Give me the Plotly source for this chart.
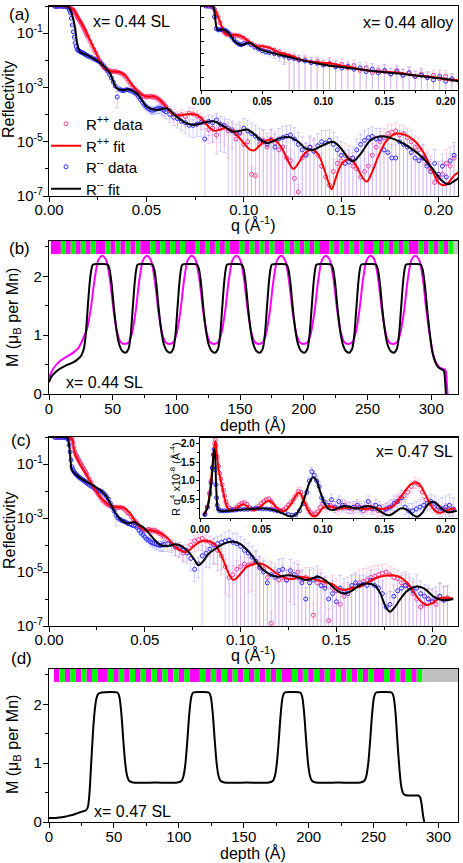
import plotly.graph_objects as go

FONT = "Liberation Sans, Arial, sans-serif"
W, H = 463, 863

# ====================== DATA ======================
# ---- panel (a): x = 0.44 SL, reflectivity (log10 R) ----
refl_q = [0.003,0.004,0.005,0.006,0.007,0.008,0.009,0.0095,0.010,0.0105,
          0.011,0.0115,0.012,0.0125,0.013,0.0135,0.014,0.0145,0.015,0.0155,
          0.016,0.0165,0.017,0.0175,0.018,0.0185,0.019,0.0195,0.020,0.021,
          0.022,0.023,0.024,0.025,0.026,0.027,0.028,0.029,0.030,0.031,
          0.032,0.033,0.034,0.035,0.036,0.037,0.038,0.039,0.040,0.041,
          0.042,0.043,0.044,0.045,0.046,0.047,0.048,0.049,0.050,0.051,
          0.052,0.053,0.054,0.055,0.056,0.057,0.058,0.059,0.060,0.062,
          0.064,0.066,0.068,0.070,0.072,0.074,0.076,0.078,0.080,0.082,
          0.084,0.086,0.088,0.090,0.092,0.094,0.096,0.098,0.100,0.102,
          0.104,0.106,0.108,0.110,0.112,0.114,0.116,0.118,0.120,0.122,
          0.124,0.126,0.128,0.130,0.132,0.134,0.136,0.138,0.140,0.142,
          0.144,0.146,0.148,0.150,0.152,0.154,0.156,0.158,0.160,0.162,
          0.164,0.166,0.168,0.170,0.172,0.174,0.176,0.178,0.180,0.182,
          0.184,0.186,0.188,0.190,0.192,0.194,0.196,0.198,0.200,0.202,
          0.204,0.206,0.208]

a_pp_logR = [-0.01,-0.01,0.0,-0.01,-0.02,-0.01,-0.03,-0.04,-0.05,-0.07,
             -0.09,-0.1,-0.12,-0.15,-0.2,-0.26,-0.32,-0.4,-0.46,-0.52,
             -0.58,-0.63,-0.7,-0.77,-0.85,-0.92,-1.0,-1.08,-1.15,-1.3,
             -1.45,-1.6,-1.72,-1.88,-2.02,-2.15,-2.25,-2.3,-2.35,-2.38,
             -2.4,-2.42,-2.4,-2.43,-2.45,-2.48,-2.52,-2.58,-2.68,-2.78,
             -2.88,-2.98,-3.05,-3.12,-3.18,-3.25,-3.3,-3.33,-3.35,-3.33,
             -3.32,-3.34,-3.35,-3.38,-3.42,-3.48,-3.55,-3.62,-3.7,-3.85,
             -3.98,-4.05,-4.0,-4.08,-3.95,-3.98,-4.05,-4.15,-4.3,-4.55,
             -4.5,-4.75,-4.5,-4.45,-4.6,-4.55,-4.9,-4.7,-5.1,-5.0,
             -6.2,-6.25,-5.1,-4.95,-5.2,-4.9,-5.05,-5.3,-5.2,-5.6,
             -5.7,-6.35,-6.85,-5.6,-5.45,-5.2,-5.35,-5.5,-5.9,-6.3,
             -6.6,-6.1,-5.8,-5.7,-5.5,-5.6,-5.9,-6.0,-6.3,-6.1,
             -5.9,-5.5,-5.2,-5.0,-4.85,-4.7,-4.65,-4.6,-4.75,-4.7,
             -4.85,-5.0,-5.2,-5.3,-5.6,-5.8,-6.0,-6.5,-6.3,-6.2,
             -5.8,-5.9,-5.6]

a_mm_logR = [-0.01,-0.02,-0.01,0.0,-0.02,-0.01,-0.02,-0.03,-0.06,-0.15,
             -0.25,-0.45,-0.7,-0.95,-1.15,-1.35,-1.5,-1.6,-1.63,-1.66,
             -1.68,-1.7,-1.72,-1.73,-1.75,-1.78,-1.8,-1.82,-1.85,-1.88,
             -1.9,-1.95,-1.98,-2.02,-2.06,-2.12,-2.2,-2.3,-2.4,-2.52,
             -2.65,-2.8,-2.95,-3.35,-3.05,-3.1,-3.12,-3.1,-3.08,-3.1,
             -3.12,-3.15,-3.2,-3.25,-3.35,-3.45,-3.55,-3.65,-3.72,-3.78,
             -3.82,-3.85,-3.83,-3.8,-3.78,-3.77,-3.8,-3.85,-3.9,-4.0,
             -4.1,-4.15,-4.25,-4.3,-4.4,-4.4,-4.35,-4.3,-4.9,-4.25,
             -4.3,-4.2,-4.35,-4.4,-4.5,-4.6,-4.7,-4.65,-4.5,-4.6,
             -4.7,-4.8,-4.9,-5.0,-5.1,-4.95,-5.2,-4.9,-4.85,-4.8,
             -4.75,-4.9,-5.1,-5.3,-5.5,-5.2,-5.35,-5.15,-5.0,-5.05,
             -4.95,-5.1,-5.3,-5.5,-5.8,-5.75,-5.6,-5.3,-5.1,-4.95,
             -4.85,-4.8,-4.9,-4.9,-5.3,-5.4,-5.6,-5.6,-5.0,-5.1,
             -5.2,-5.4,-5.6,-5.7,-5.6,-5.9,-6.1,-5.8,-6.2,-5.9,
             -6.3,-5.7,-5.5]

# relative (sigma/R) errors of the measured points
pp_relerr = [0.03,0.03,0.03,0.03,0.03,0.03,0.03,0.03,0.03,0.03,
             0.03,0.03,0.03,0.03,0.03,0.03,0.03,0.03,0.03,0.03,
             0.04,0.04,0.04,0.04,0.04,0.04,0.04,0.04,0.04,0.04,
             0.06,0.06,0.06,0.06,0.06,0.06,0.06,0.06,0.06,0.06,
             0.08,0.08,0.08,0.08,0.08,0.08,0.08,0.08,0.1,0.1,
             0.12,0.12,0.12,0.12,0.14,0.14,0.14,0.15,0.15,0.16,
             0.18,0.2,0.2,0.22,0.25,0.25,0.3,0.3,0.35,0.4,
             0.45,0.5,0.5,0.55,0.6,0.6,0.6,0.6,0.65,0.7,
             0.7,0.8,0.7,0.8,0.9,0.8,1.2,1.1,1.3,1.2,
             0.9,0.9,1.4,1.3,1.5,1.2,1.6,1.5,1.4,1.8,
             1.5,0.9,0.9,1.6,1.5,1.3,1.6,1.8,2.0,1.5,
             1.2,1.8,2.0,1.9,1.7,2.0,2.2,2.0,1.6,2.0,
             2.0,1.8,1.5,1.4,1.2,1.1,1.0,1.0,1.2,1.1,
             1.3,1.5,1.6,1.8,2.0,2.0,2.2,1.5,1.8,2.0,
             2.2,2.0,1.8]
mm_relerr = [0.03,0.03,0.03,0.03,0.03,0.03,0.03,0.03,0.03,0.03,
             0.03,0.03,0.03,0.03,0.03,0.03,0.03,0.03,0.03,0.03,
             0.04,0.04,0.04,0.04,0.04,0.04,0.04,0.04,0.04,0.04,
             0.05,0.05,0.05,0.05,0.05,0.05,0.05,0.05,0.05,0.05,
             0.07,0.08,0.1,0.6,0.1,0.1,0.1,0.1,0.12,0.12,
             0.12,0.14,0.14,0.15,0.16,0.18,0.2,0.22,0.25,0.25,
             0.28,0.3,0.3,0.32,0.35,0.35,0.4,0.4,0.45,0.5,
             0.5,0.55,0.55,0.6,0.6,0.65,0.65,0.7,1.5,0.7,
             0.8,0.8,0.9,0.9,1.1,1.3,1.2,1.4,1.3,1.5,
             1.4,1.6,1.5,1.8,1.6,1.5,2.0,1.4,1.6,1.5,
             1.3,1.6,1.8,2.0,1.8,1.6,2.0,1.8,1.6,1.9,
             1.5,1.8,2.0,2.2,2.0,1.8,1.6,1.5,1.4,1.3,
             1.2,1.2,1.4,1.5,1.8,2.0,2.2,2.0,1.6,1.8,
             2.0,2.2,2.0,1.8,2.2,2.0,1.8,2.2,2.0,1.8,
             2.0,2.2,2.0]

a_fit_pp_q = [0, 0.006, 0.009, 0.011, 0.0125, 0.014, 0.016, 0.018, 0.021, 0.024,
              0.0262, 0.028, 0.030, 0.033, 0.036, 0.039, 0.042, 0.045, 0.048, 0.051,
              0.054, 0.057, 0.060, 0.064, 0.068, 0.072, 0.076, 0.079, 0.082, 0.085,
              0.088, 0.091, 0.094, 0.097, 0.100, 0.103, 0.1053, 0.108, 0.111, 0.114,
              0.117, 0.120, 0.123, 0.1254, 0.128, 0.131, 0.1348, 0.138, 0.141, 0.1435,
              0.1451, 0.147, 0.150, 0.1537, 0.157, 0.160, 0.1631, 0.166, 0.1699, 0.174,
              0.1784, 0.183, 0.187, 0.1905, 0.1938, 0.197, 0.2006, 0.2035, 0.2058, 0.208,
              0.211]
a_fit_pp_logR = [0, 0, -0.02, -0.07, -0.13, -0.3, -0.55, -0.8, -1.25, -1.7,
                 -2.05, -2.25, -2.36, -2.42, -2.43, -2.55, -2.85, -3.1, -3.28, -3.34,
                 -3.33, -3.46, -3.7, -4.0, -4.02, -3.98, -4.02, -4.2, -4.45, -4.6,
                 -4.55, -4.5, -4.6, -4.8, -5.05, -5.28, -5.32, -5.15, -4.98, -4.92,
                 -5.0, -5.3, -5.75, -6.0, -5.8, -5.45, -5.3, -5.45, -5.95, -6.5,
                 -6.75, -6.4, -5.85, -5.65, -5.8, -6.2, -6.47, -6.1, -5.4, -4.9,
                 -4.7, -4.75, -4.92, -5.2, -5.6, -6.1, -6.55, -6.6, -6.45, -6.25,
                 -6.1]
a_fit_mm_q = [0, 0.008, 0.0099, 0.0116, 0.0133, 0.0145, 0.0159, 0.0175, 0.0193, 0.022,
              0.0262, 0.029, 0.0313, 0.033, 0.0347, 0.038, 0.0407, 0.045, 0.0475, 0.0502,
              0.0553, 0.0604, 0.0656, 0.070, 0.074, 0.079, 0.0844, 0.089, 0.094, 0.098,
              0.1015, 0.105, 0.109, 0.1125, 0.116, 0.1195, 0.1237, 0.128, 0.1318, 0.1357,
              0.140, 0.1459, 0.150, 0.1535, 0.1562, 0.160, 0.165, 0.170, 0.175, 0.180,
              0.187, 0.192, 0.197, 0.2012, 0.2049, 0.208, 0.211]
a_fit_mm_logR = [0, 0, -0.02, -0.27, -0.76, -1.38, -1.68, -1.76, -1.8, -1.9,
                 -2.09, -2.28, -2.48, -2.78, -3.03, -3.1, -3.07, -3.22, -3.45, -3.71,
                 -3.83, -3.77, -4.08, -4.3, -4.38, -4.3, -4.25, -4.4, -4.62, -4.6,
                 -4.55, -4.7, -4.95, -5.05, -4.95, -4.85, -4.84, -5.0, -5.25, -5.3,
                 -5.15, -5.0, -5.25, -5.6, -5.72, -5.45, -4.95, -4.8, -4.85, -5.0,
                 -5.3, -5.6, -6.0, -6.4, -6.57, -6.45, -6.3]

# ---- inset of (a): x = 0.44 alloy ----
ai_q = [0.004,0.006,0.008,0.0095,0.011,0.0125,0.014,0.0155,0.017,0.0185,
        0.020,0.0215,0.023,0.025,0.027,0.029,0.031,0.033,0.035,0.038,
        0.041,0.044,0.047,0.050,0.053,0.056,0.060,0.064,0.068,0.072,
        0.076,0.080,0.085,0.090,0.095,0.100,0.105,0.110,0.115,0.120,
        0.125,0.130,0.135,0.140,0.145,0.150,0.155,0.160,0.165,0.170,
        0.175,0.180,0.185,0.190,0.195,0.200,0.205]
ai_pp_logR = [0.0,-0.01,-0.02,-0.03,-0.25,-0.6,-0.95,-1.4,-1.85,-2.15,
              -2.3,-2.4,-2.4,-2.42,-2.45,-2.48,-2.5,-2.6,-2.7,-2.9,
              -3.15,-3.3,-3.38,-3.42,-3.5,-3.55,-3.7,-3.85,-4.05,-4.2,
              -4.3,-4.55,-4.5,-4.7,-4.65,-4.9,-4.8,-5.0,-4.9,-5.2,
              -5.0,-5.4,-5.2,-5.6,-5.4,-5.5,-5.7,-5.4,-5.8,-5.6,
              -5.9,-5.7,-6.0,-5.8,-6.1,-5.9,-6.2]
ai_mm_logR = [0.0,-0.01,-0.02,-0.1,-0.9,-1.9,-2.0,-2.0,-1.98,-2.0,
              -2.05,-2.15,-2.3,-2.6,-2.85,-3.05,-3.2,-3.25,-3.15,-3.1,
              -3.25,-3.45,-3.6,-3.75,-3.85,-3.9,-4.0,-4.1,-4.2,-4.35,
              -4.4,-4.5,-4.6,-4.75,-4.8,-4.95,-4.9,-5.1,-5.2,-5.05,
              -5.3,-5.2,-5.5,-5.3,-5.6,-5.4,-5.7,-5.5,-5.8,-5.6,
              -5.9,-5.8,-6.0,-6.2,-5.9,-6.3,-6.1]
ai_relerr = [0.03,0.03,0.03,0.03,0.03,0.04,0.04,0.04,0.05,0.05,
             0.06,0.06,0.07,0.08,0.1,0.1,0.12,0.14,0.15,0.18,
             0.2,0.25,0.3,0.35,0.4,0.5,0.6,0.7,0.8,1.0,
             1.2,1.3,1.5,1.6,1.8,1.5,2.0,1.8,2.0,1.6,
             2.0,1.8,2.2,2.0,1.6,2.2,2.0,1.8,2.2,2.0,
             1.8,2.2,2.0,1.8,2.2,2.0,1.8]
ai_fit_pp_q = [0, 0.009, 0.0105, 0.0125, 0.0142, 0.0165, 0.0196, 0.0225, 0.0251, 0.0285,
               0.0319, 0.036, 0.040, 0.0428, 0.047, 0.050, 0.054, 0.058, 0.0625, 0.0673,
               0.0727, 0.078, 0.083, 0.089, 0.095, 0.100, 0.1081, 0.115, 0.1217, 0.128,
               0.1353, 0.143, 0.150, 0.1543, 0.1625, 0.170, 0.176, 0.183, 0.190, 0.196,
               0.2007, 0.205, 0.2089, 0.2116]
ai_fit_pp_logR = [0, 0, -0.12, -0.55, -0.95, -1.6, -2.3, -2.42, -2.45, -2.43,
                  -2.48, -2.73, -3.05, -3.29, -3.4, -3.38, -3.45, -3.6, -3.85, -3.99,
                  -4.13, -4.35, -4.55, -4.65, -4.72, -4.75, -4.85, -5.0, -5.11, -5.25,
                  -5.4, -5.5, -5.52, -5.54, -5.6, -5.75, -5.82, -5.88, -5.96, -6.08,
                  -6.18, -6.18, -6.2, -6.24]
ai_fit_mm_q = [0, 0.0095, 0.0108, 0.0118, 0.0128, 0.0142, 0.0165, 0.019, 0.022, 0.025,
               0.0278, 0.0332, 0.0365, 0.040, 0.0435, 0.0469, 0.055, 0.060, 0.0659, 0.0768,
               0.086, 0.0958, 0.105, 0.1149, 0.125, 0.1366, 0.150, 0.1638, 0.177, 0.191,
               0.200, 0.205, 0.2127]
ai_fit_mm_logR = [0, 0, -0.4, -1.2, -1.85, -2.02, -1.98, -2.0, -2.2, -2.6,
                  -3.0, -3.29, -3.15, -3.09, -3.3, -3.57, -3.85, -3.98, -4.13, -4.41,
                  -4.62, -4.83, -5.0, -5.11, -5.25, -5.4, -5.55, -5.68, -5.85, -6.01,
                  -6.12, -6.2, -6.38]

# ---- panel (b): magnetization depth profile, x = 0.44 SL ----
b_black_depth = [0, 2, 5, 8, 12, 16, 20, 23, 25.5, 27.5, 29, 30.5, 32, 33.3,
    34.5, 40, 46, 47.5, 49, 51, 53, 55, 57.5, 60, 62.3, 64, 65.7, 67.3, 68.5,
    69.6, 75.1, 81.1, 82.6, 84.1, 86.1, 88.1, 90.1, 92.6, 95.1, 97.4, 99.1, 100.8, 102.4, 103.6,
    104.7, 110.2, 116.2, 117.7, 119.2, 121.2, 123.2, 125.2, 127.7, 130.2, 132.5, 134.2, 135.9, 137.5, 138.7,
    139.8, 145.3, 151.3, 152.8, 154.3, 156.3, 158.3, 160.3, 162.8, 165.3, 167.6, 169.3, 171.0, 172.6, 173.8,
    174.9, 180.4, 186.4, 187.9, 189.4, 191.4, 193.4, 195.4, 197.9, 200.4, 202.7, 204.4, 206.1, 207.7, 208.9,
    210.0, 215.5, 221.5, 223.0, 224.5, 226.5, 228.5, 230.5, 233.0, 235.5, 237.8, 239.5, 241.2, 242.8, 244.0,
    245.1, 250.6, 256.6, 258.1, 259.6, 261.6, 263.6, 265.6, 268.1, 270.6, 272.9, 274.6, 276.3, 277.9, 279.1,
    280.2, 285.7, 291.7, 293.2, 295, 297, 299, 301, 303, 305, 307, 309, 310, 310.8, 311.5]
b_black_M = [0.2, 0.3, 0.37, 0.42, 0.47, 0.51, 0.55, 0.6, 0.66, 0.78, 1.05, 1.5, 1.9, 2.12,
    2.2, 2.21, 2.2, 2.12, 1.9, 1.45, 1.08, 0.85, 0.73, 0.70, 0.76, 0.98, 1.45, 1.9, 2.12,
    2.2, 2.21, 2.2, 2.12, 1.9, 1.45, 1.08, 0.85, 0.73, 0.70, 0.76, 0.98, 1.45, 1.9, 2.12,
    2.2, 2.21, 2.2, 2.12, 1.9, 1.45, 1.08, 0.85, 0.73, 0.70, 0.76, 0.98, 1.45, 1.9, 2.12,
    2.2, 2.21, 2.2, 2.12, 1.9, 1.45, 1.08, 0.85, 0.73, 0.70, 0.76, 0.98, 1.45, 1.9, 2.12,
    2.2, 2.21, 2.2, 2.12, 1.9, 1.45, 1.08, 0.85, 0.73, 0.70, 0.76, 0.98, 1.45, 1.9, 2.12,
    2.2, 2.21, 2.2, 2.12, 1.9, 1.45, 1.08, 0.85, 0.73, 0.70, 0.76, 0.98, 1.45, 1.9, 2.12,
    2.2, 2.21, 2.2, 2.12, 1.9, 1.45, 1.08, 0.85, 0.73, 0.70, 0.76, 0.98, 1.45, 1.9, 2.12,
    2.2, 2.21, 2.2, 2.12, 1.85, 1.4, 1.0, 0.7, 0.55, 0.47, 0.43, 0.41, 0.39, 0.25, 0.0]
b_pink_depth = [0, 2, 5, 8, 12, 16, 20, 23, 25.5, 27.5, 29.8, 32.8, 35.8,
    38.8, 41.8, 44.8, 47.8, 50.8, 53.8, 56.3, 59.4, 62.5, 65.0, 68.0, 71.0,
    73.9, 76.9, 79.9, 82.9, 85.9, 88.9, 91.4, 94.5, 97.6, 100.1, 103.1, 106.1,
    109.0, 112.0, 115.0, 118.0, 121.0, 124.0, 126.5, 129.6, 132.7, 135.2, 138.2, 141.2,
    144.1, 147.1, 150.1, 153.1, 156.1, 159.1, 161.6, 164.7, 167.8, 170.3, 173.3, 176.3,
    179.2, 182.2, 185.2, 188.2, 191.2, 194.2, 196.7, 199.8, 202.9, 205.4, 208.4, 211.4,
    214.3, 217.3, 220.3, 223.3, 226.3, 229.3, 231.8, 234.9, 238.0, 240.5, 243.5, 246.5,
    249.4, 252.4, 255.4, 258.4, 261.4, 264.4, 266.9, 270.0, 273.1, 275.6, 278.6, 281.6,
    284.5, 287.5, 290.5, 293.5, 296, 298.5, 301, 303.5, 306, 308.5, 310.5, 311.5, 312.3, 312.8]
b_pink_M = [0.27, 0.38, 0.48, 0.55, 0.61, 0.66, 0.72, 0.78, 0.88, 0.98, 1.1, 1.45, 1.95,
    2.28, 2.35, 2.28, 1.95, 1.4, 1.02, 0.88, 0.85, 0.88, 1.02, 1.4, 1.95,
    2.28, 2.35, 2.28, 1.95, 1.4, 1.02, 0.88, 0.85, 0.88, 1.02, 1.4, 1.95,
    2.28, 2.35, 2.28, 1.95, 1.4, 1.02, 0.88, 0.85, 0.88, 1.02, 1.4, 1.95,
    2.28, 2.35, 2.28, 1.95, 1.4, 1.02, 0.88, 0.85, 0.88, 1.02, 1.4, 1.95,
    2.28, 2.35, 2.28, 1.95, 1.4, 1.02, 0.88, 0.85, 0.88, 1.02, 1.4, 1.95,
    2.28, 2.35, 2.28, 1.95, 1.4, 1.02, 0.88, 0.85, 0.88, 1.02, 1.4, 1.95,
    2.28, 2.35, 2.28, 1.95, 1.4, 1.02, 0.88, 0.85, 0.88, 1.02, 1.4, 1.95,
    2.28, 2.35, 2.28, 1.95, 1.45, 1.05, 0.72, 0.55, 0.46, 0.43, 0.42, 0.38, 0.15, 0.0]

# layer stack of (b): L = LaMnO3 (magenta), S = SrMnO3 (green), thickness in Å
b_stack_start = 1.5
b_period_layers = ["L", "S", "L", "S", "L", "S", "L", "S"]
b_period_thick = [7.8, 3.9, 3.9, 3.9, 3.9, 3.9, 3.9, 3.9]
b_n_periods = 9
b_cap_thick = 3.6

# ---- panel (c): x = 0.47 SL ----
c_pp_logR = [-0.01,-0.01,-0.02,-0.01,-0.01,-0.02,-0.01,-0.02,-0.02,-0.03,
             -0.03,-0.04,-0.06,-0.2,-0.4,-0.55,-0.65,-0.72,-0.78,-0.85,
             -0.92,-0.98,-1.04,-1.1,-1.16,-1.22,-1.28,-1.35,-1.42,-1.55,
             -1.68,-1.82,-1.95,-2.05,-2.15,-2.25,-2.35,-2.42,-2.48,-2.52,
             -2.55,-2.58,-2.6,-2.6,-2.62,-2.6,-2.62,-2.65,-2.72,-2.8,
             -2.85,-2.95,-3.05,-3.12,-3.2,-3.3,-3.38,-3.42,-3.45,-3.45,
             -3.42,-3.45,-3.48,-3.45,-3.5,-3.52,-3.58,-3.62,-3.68,-3.82,
             -3.95,-4.1,-4.15,-4.3,-4.2,-4.0,-3.85,-3.8,-3.75,-3.85,
             -3.9,-4.0,-4.2,-4.4,-4.8,-5.2,-5.1,-4.9,-4.8,-4.7,
             -4.75,-4.7,-4.6,-4.8,-4.9,-5.2,-6.9,-5.1,-5.3,-5.2,
             -5.3,-5.1,-5.2,-5.0,-5.3,-5.2,-5.25,-6.6,-5.4,-5.3,
             -5.5,-6.8,-5.6,-5.7,-6.2,-5.9,-5.7,-5.6,-5.5,-5.4,
             -5.35,-5.3,-5.2,-5.15,-5.1,-5.05,-5.0,-5.1,-5.2,-5.25,
             -5.4,-5.5,-5.6,-5.8,-6.0,-6.3,-6.2,-6.0,-6.1,-6.2,
             -5.9,-6.0,-5.95]
c_mm_logR = [-0.01,-0.02,-0.01,-0.02,-0.01,-0.02,-0.03,-0.04,-0.1,-0.3,
             -0.55,-0.85,-1.1,-1.2,-1.28,-1.33,-1.37,-1.41,-1.45,-1.48,
             -1.5,-1.53,-1.56,-1.58,-1.6,-1.63,-1.66,-1.69,-1.72,-1.78,
             -1.82,-1.86,-1.9,-1.95,-1.98,-2.0,-2.05,-2.12,-2.2,-2.3,
             -2.45,-2.6,-2.75,-2.9,-3.0,-3.05,-3.1,-3.12,-3.15,-3.2,
             -3.22,-3.25,-3.28,-3.3,-3.35,-3.45,-3.55,-3.62,-3.7,-3.78,
             -3.82,-3.88,-3.92,-3.95,-3.98,-4.0,-4.02,-4.0,-3.98,-3.95,
             -3.98,-4.05,-4.1,-4.2,-4.3,-4.5,-4.9,-4.7,-4.4,-4.3,
             -4.15,-4.0,-3.95,-3.9,-3.85,-3.82,-3.9,-3.95,-4.05,-4.2,
             -4.3,-4.45,-4.6,-4.85,-5.0,-5.4,-5.1,-5.2,-4.95,-4.9,
             -5.3,-4.95,-5.1,-5.2,-5.4,-6.0,-5.4,-5.3,-5.2,-5.5,
             -5.6,-6.0,-5.8,-6.1,-5.6,-5.7,-5.8,-5.5,-5.4,-5.5,
             -5.45,-5.5,-5.3,-5.5,-5.6,-5.8,-6.3,-6.2,-5.9,-5.7,
             -5.6,-5.5,-5.55,-5.7,-5.6,-5.8,-5.9,-6.0,-6.1,-6.0,
             -5.9,-6.05,-6.0]
c_fit_pp_q = [0.0, 0.008, 0.011, 0.0122, 0.013, 0.014, 0.016, 0.018, 0.020, 0.022,
              0.024, 0.027, 0.030, 0.033, 0.036, 0.039, 0.042, 0.0443, 0.047, 0.050,
              0.053, 0.056, 0.059, 0.062, 0.065, 0.0686, 0.072, 0.0755, 0.079, 0.0825,
              0.0859, 0.0895, 0.092, 0.0945, 0.0964, 0.099, 0.1033, 0.107, 0.110, 0.114,
              0.119, 0.124, 0.1275, 0.131, 0.135, 0.140, 0.144, 0.148, 0.151, 0.154,
              0.158, 0.162, 0.166, 0.170, 0.1745, 0.179, 0.183, 0.187, 0.190, 0.193,
              0.197, 0.200, 0.2035, 0.207, 0.211]
c_fit_pp_logR = [0, 0, -0.02, -0.1, -0.45, -0.7, -0.98, -1.22, -1.45, -1.7,
                 -1.95, -2.25, -2.45, -2.58, -2.6, -2.62, -2.8, -3.05, -3.3, -3.45,
                 -3.45, -3.5, -3.6, -3.75, -4.0, -4.2, -4.25, -4.05, -3.88, -3.85,
                 -3.94, -4.31, -4.75, -5.15, -5.3, -5.15, -4.8, -4.7, -4.68, -4.8,
                 -5.06, -5.24, -5.25, -5.18, -5.22, -5.3, -5.38, -5.45, -5.6, -5.67,
                 -5.6, -5.55, -5.4, -5.25, -5.15, -5.12, -5.18, -5.4, -5.7, -6.0,
                 -6.22, -6.15, -5.98, -5.95, -5.98]
c_fit_mm_q = [0, 0.008, 0.0096, 0.0105, 0.0112, 0.0118, 0.013, 0.015, 0.018, 0.022,
              0.027, 0.030, 0.032, 0.035, 0.0376, 0.041, 0.0443, 0.047, 0.0495, 0.052,
              0.055, 0.058, 0.0616, 0.065, 0.068, 0.072, 0.0755, 0.078, 0.0805, 0.083,
              0.0877, 0.092, 0.0964, 0.100, 0.105, 0.109, 0.112, 0.1155, 0.119, 0.1225,
              0.126, 0.130, 0.1345, 0.138, 0.141, 0.145, 0.148, 0.151, 0.154, 0.158,
              0.162, 0.1658, 0.170, 0.173, 0.1755, 0.178, 0.1805, 0.183, 0.187, 0.192,
              0.196, 0.2005, 0.204, 0.208, 0.211]
c_fit_mm_logR = [0, 0, -0.02, -0.3, -0.8, -1.2, -1.32, -1.45, -1.6, -1.75,
                 -1.98, -2.2, -2.46, -2.85, -3.07, -3.2, -3.15, -3.25, -3.36, -3.55,
                 -3.8, -4.0, -4.05, -3.98, -4.0, -4.19, -4.5, -4.74, -4.6, -4.35,
                 -4.1, -3.93, -3.88, -3.97, -4.31, -4.7, -4.93, -5.1, -5.18, -5.14,
                 -5.12, -5.2, -5.3, -5.22, -5.18, -5.35, -5.54, -5.72, -5.8, -5.7,
                 -5.5, -5.43, -5.5, -5.8, -6.25, -6.47, -6.3, -6.04, -5.7, -5.54,
                 -5.62, -5.9, -6.02, -6.04, -6.0]

# ---- inset of (c): R q^4 x 1e8 ----
ci_pp_q = [0.004,0.006,0.008,0.009,0.010,0.011,0.012,0.0125,0.013,0.014,
           0.015,0.016,0.017,0.018,0.019,0.020,0.021,0.022,0.024,0.026,
           0.028,0.030,0.032,0.034,0.036,0.038,0.040,0.042,0.044,0.046,
           0.048,0.050,0.052,0.054,0.056,0.058,0.060,0.062,0.064,0.066,
           0.068,0.070,0.072,0.074,0.076,0.078,0.080,0.082,0.084,0.086,
           0.088,0.090,0.092,0.094,0.096,0.098,0.100,0.103,0.106,0.109,
           0.112,0.115,0.118,0.121,0.124,0.127,0.130,0.133,0.136,0.139,
           0.142,0.145,0.148,0.151,0.154,0.157,0.160,0.163,0.166,0.169,
           0.172,0.175,0.178,0.181,0.184,0.187,0.190,0.193,0.196,0.199,
           0.202,0.205]
ci_pp_v = [0.12,0.3,0.7,1.0,1.35,1.7,2.0,2.1,1.95,1.65,
           1.4,1.2,1.05,0.9,0.75,0.6,0.45,0.35,0.27,0.24,
           0.25,0.3,0.36,0.4,0.42,0.38,0.3,0.25,0.24,0.28,
           0.33,0.4,0.45,0.5,0.52,0.45,0.33,0.25,0.22,0.2,
           0.22,0.28,0.35,0.42,0.5,0.6,0.72,0.7,0.55,0.38,
           0.25,0.15,0.1,0.12,0.18,0.3,0.4,0.3,0.35,0.3,
           0.25,0.3,0.35,0.28,0.25,0.3,0.3,0.2,0.25,0.3,
           0.25,0.2,0.22,0.25,0.3,0.35,0.45,0.55,0.6,0.7,
           0.85,0.95,0.9,0.7,0.5,0.4,0.3,0.25,0.2,0.25,
           0.25,0.22]
ci_pp_err = [0.01,0.01,0.02,0.02,0.03,0.03,0.04,0.04,0.04,0.04,
             0.03,0.03,0.03,0.03,0.03,0.03,0.03,0.03,0.03,0.03,
             0.03,0.03,0.03,0.04,0.04,0.04,0.04,0.04,0.04,0.05,
             0.05,0.05,0.05,0.06,0.06,0.06,0.06,0.06,0.06,0.06,
             0.07,0.07,0.08,0.08,0.1,0.1,0.12,0.12,0.12,0.12,
             0.1,0.1,0.1,0.1,0.12,0.12,0.15,0.15,0.15,0.15,
             0.15,0.15,0.15,0.15,0.15,0.15,0.15,0.15,0.15,0.15,
             0.15,0.15,0.15,0.15,0.15,0.15,0.15,0.15,0.15,0.15,
             0.15,0.15,0.15,0.15,0.15,0.15,0.15,0.15,0.15,0.15,
             0.15,0.15]
ci_mm_q = [0.004,0.006,0.008,0.009,0.010,0.011,0.0115,0.012,0.0125,0.013,
           0.0135,0.014,0.015,0.016,0.018,0.020,0.022,0.024,0.026,0.028,
           0.030,0.033,0.036,0.039,0.042,0.045,0.048,0.051,0.054,0.057,
           0.060,0.063,0.066,0.069,0.072,0.075,0.078,0.081,0.084,0.087,
           0.089,0.091,0.093,0.095,0.097,0.099,0.101,0.104,0.107,0.110,
           0.113,0.116,0.119,0.122,0.125,0.128,0.131,0.134,0.137,0.140,
           0.143,0.146,0.149,0.152,0.155,0.158,0.161,0.164,0.167,0.170,
           0.173,0.176,0.179,0.182,0.185,0.188,0.191,0.194,0.197,0.200,
           0.203,0.206]
ci_mm_v = [0.1,0.3,0.65,0.95,1.35,1.7,1.85,1.7,1.3,0.9,
           0.55,0.35,0.25,0.2,0.2,0.2,0.2,0.21,0.22,0.22,
           0.23,0.24,0.24,0.24,0.25,0.26,0.26,0.25,0.25,0.24,
           0.22,0.2,0.18,0.15,0.1,0.08,0.1,0.2,0.4,0.7,
           1.0,1.25,1.15,1.0,0.85,0.55,0.45,0.35,0.5,0.3,
           0.45,0.35,0.3,0.28,0.3,0.35,0.25,0.3,0.45,0.25,
           0.35,0.3,0.2,0.25,0.3,0.4,0.45,0.55,0.3,0.2,
           0.2,0.25,0.3,0.35,0.4,0.45,0.4,0.3,0.25,0.3,
           0.35,0.25]
ci_mm_err = [0.01,0.01,0.02,0.02,0.03,0.03,0.04,0.04,0.04,0.03,
             0.03,0.03,0.02,0.02,0.02,0.02,0.02,0.02,0.02,0.02,
             0.02,0.02,0.02,0.03,0.03,0.03,0.03,0.03,0.03,0.03,
             0.03,0.03,0.03,0.03,0.03,0.03,0.04,0.05,0.06,0.08,
             0.1,0.12,0.12,0.12,0.12,0.12,0.12,0.12,0.15,0.15,
             0.15,0.15,0.15,0.15,0.15,0.15,0.15,0.15,0.15,0.15,
             0.15,0.15,0.15,0.15,0.2,0.2,0.2,0.2,0.2,0.2,
             0.2,0.2,0.2,0.2,0.2,0.2,0.2,0.2,0.3,0.3,
             0.3,0.3]
ci_fit_pp_q = [0.003, 0.006, 0.008, 0.010, 0.0115, 0.0125, 0.0135, 0.015, 0.017, 0.019,
               0.021, 0.023, 0.026, 0.029, 0.032, 0.035, 0.038, 0.041, 0.045, 0.049,
               0.053, 0.056, 0.059, 0.062, 0.066, 0.070, 0.074, 0.077, 0.080, 0.082,
               0.085, 0.088, 0.091, 0.094, 0.097, 0.100, 0.104, 0.108, 0.113, 0.118,
               0.123, 0.128, 0.133, 0.138, 0.143, 0.148, 0.153, 0.158, 0.163, 0.168,
               0.172, 0.176, 0.180, 0.184, 0.188, 0.192, 0.196, 0.200, 0.204, 0.208]
ci_fit_pp_v = [0.08, 0.3, 0.7, 1.35, 1.85, 2.07, 1.8, 1.35, 1.0, 0.7,
               0.4, 0.25, 0.2, 0.25, 0.33, 0.37, 0.33, 0.25, 0.22, 0.3,
               0.42, 0.47, 0.42, 0.3, 0.2, 0.22, 0.38, 0.55, 0.68, 0.65,
               0.45, 0.22, 0.08, 0.06, 0.15, 0.28, 0.32, 0.3, 0.26, 0.27,
               0.28, 0.27, 0.25, 0.26, 0.28, 0.25, 0.27, 0.35, 0.55, 0.78,
               0.92, 0.96, 0.85, 0.6, 0.35, 0.18, 0.15, 0.2, 0.25, 0.26]
ci_fit_mm_q = [0.003, 0.006, 0.008, 0.0095, 0.0105, 0.0115, 0.0122, 0.0128, 0.0135, 0.0142,
               0.015, 0.018, 0.022, 0.027, 0.032, 0.037, 0.042, 0.047, 0.052, 0.057,
               0.062, 0.066, 0.070, 0.074, 0.078, 0.082, 0.086, 0.089, 0.092, 0.095,
               0.098, 0.101, 0.104, 0.108, 0.112, 0.117, 0.122, 0.127, 0.132, 0.137,
               0.142, 0.147, 0.151, 0.155, 0.159, 0.164, 0.169, 0.173, 0.177, 0.181,
               0.185, 0.189, 0.193, 0.197, 0.201, 0.205, 0.209]
ci_fit_mm_v = [0.07, 0.28, 0.62, 1.05, 1.5, 1.85, 1.75, 1.2, 0.6, 0.3,
               0.22, 0.19, 0.2, 0.21, 0.23, 0.24, 0.25, 0.26, 0.26, 0.24,
               0.2, 0.15, 0.09, 0.05, 0.1, 0.3, 0.65, 0.95, 1.1, 1.0,
               0.7, 0.42, 0.27, 0.22, 0.27, 0.33, 0.3, 0.26, 0.3, 0.33,
               0.28, 0.18, 0.1, 0.09, 0.17, 0.27, 0.22, 0.1, 0.04, 0.15,
               0.35, 0.44, 0.38, 0.25, 0.17, 0.17, 0.2]

# ---- panel (d): magnetization depth profile, x = 0.47 SL ----
d_depth = [0, 5, 10, 14, 18, 22, 26, 28.5, 30, 31.2, 32.5, 33.8, 35, 36.5, 38, 40.7,
    46.7, 52.7, 54.2, 55.7, 57.2, 58.7, 60.2, 61.7, 64.7, 82.0,
    99.1, 102.1, 103.6, 105.1, 106.6, 108.1, 109.6, 111.1, 117.1, 123.1, 124.6, 126.1, 127.6, 129.1, 130.6, 132.1, 135.1, 152.3,
    169.5, 172.5, 174.0, 175.5, 177.0, 178.5, 180.0, 181.5, 187.5, 193.5, 195.0, 196.5, 198.0, 199.5, 201.0, 202.5, 205.5, 222.7,
    239.9, 242.9, 244.4, 245.9, 247.4, 248.9, 250.4, 251.9, 257.9, 263.9, 265.4, 266.9, 268.4, 269.9, 271.2, 272.5, 274, 277, 281, 284.5, 285.8, 287, 288, 289]
d_M = [0.07, 0.07, 0.08, 0.1, 0.12, 0.15, 0.18, 0.2, 0.26, 0.5, 1.0, 1.5, 1.85, 2.1, 2.18, 2.2,
    2.21, 2.2, 2.13, 1.85, 1.4, 1.0, 0.78, 0.7, 0.67, 0.67,
    0.67, 0.7, 0.78, 1.0, 1.4, 1.85, 2.13, 2.2, 2.21, 2.2, 2.13, 1.85, 1.4, 1.0, 0.78, 0.7, 0.67, 0.67,
    0.67, 0.7, 0.78, 1.0, 1.4, 1.85, 2.13, 2.2, 2.21, 2.2, 2.13, 1.85, 1.4, 1.0, 0.78, 0.7, 0.67, 0.67,
    0.67, 0.7, 0.78, 1.0, 1.4, 1.85, 2.13, 2.2, 2.21, 2.2, 2.13, 1.85, 1.35, 0.9, 0.62, 0.5, 0.46, 0.45, 0.45, 0.45, 0.42, 0.3, 0.12, 0.0]

# layer stack of (d)
d_stack_start = 3.8
d_lead_layers = ["L", "S", "L", "S", "L", "S", "L", "S"]
d_lead_thick = [4.2, 4.2, 4.2, 4.2, 4.2, 4.2, 4.2, 4.2]
d_period_layers = ["L", "S", "L", "S", "L", "S", "L", "S", "L", "S", "L", "S", "L", "S", "L", "S"]
d_period_thick = [7.9, 4.2, 4.2, 4.2, 4.2, 4.2, 4.2, 4.2, 4.2, 4.2, 4.2, 4.2, 4.2, 4.2, 4.2, 4.2]
d_n_full = 3
d_last_layers = ["L", "S", "L", "S", "L", "S", "L", "S"]
d_last_thick = [7.9, 4.2, 4.2, 4.2, 4.2, 4.2, 4.2, 4.2]
d_cap_thick = 28.0

# ---- consistency checks ----
for a, b in [(refl_q, a_pp_logR), (refl_q, a_mm_logR), (refl_q, pp_relerr), (refl_q, mm_relerr),
             (refl_q, c_pp_logR), (refl_q, c_mm_logR),
             (a_fit_pp_q, a_fit_pp_logR), (a_fit_mm_q, a_fit_mm_logR),
             (ai_q, ai_pp_logR), (ai_q, ai_mm_logR), (ai_q, ai_relerr),
             (ai_fit_pp_q, ai_fit_pp_logR), (ai_fit_mm_q, ai_fit_mm_logR),
             (b_black_depth, b_black_M), (b_pink_depth, b_pink_M),
             (c_fit_pp_q, c_fit_pp_logR), (c_fit_mm_q, c_fit_mm_logR),
             (ci_pp_q, ci_pp_v), (ci_pp_q, ci_pp_err), (ci_mm_q, ci_mm_v), (ci_mm_q, ci_mm_err),
             (ci_fit_pp_q, ci_fit_pp_v), (ci_fit_mm_q, ci_fit_mm_v), (d_depth, d_M)]:
    assert len(a) == len(b), (len(a), len(b))

# ====================== STYLE ======================
PINK = "#FF3F8F"
PINK_ERR = "rgba(255,120,175,0.35)"
BLUE = "#2F2FFF"
BLUE_ERR = "rgba(120,120,255,0.35)"
RED = "#FF0000"
MAGENTA = "#FF00FF"
LAYER_COLORS = {"L": "#FF00FF", "S": "#00FF00", "cap": "#C0C0C0"}


def fx(p):
    return p / W


def fy(p):
    return 1 - p / H


def unlog(v):
    return [10 ** x for x in v]


fig = go.Figure()


def data_trace(q, logR, relerr, color, ecolor, xa, ya, name=None, legend=None):
    R = unlog(logR)
    err = [s * r for s, r in zip(relerr, R)]
    return go.Scatter(x=q, y=R, mode="markers", xaxis=xa, yaxis=ya,
                      name=name, showlegend=legend is not None, legend=legend or "legend",
                      marker=dict(symbol="circle-open", size=4, color=color, line=dict(width=1, color=color)),
                      error_y=dict(type="data", array=err, arrayminus=err, visible=True,
                                   color=ecolor, thickness=1, width=2))


def fit_trace(q, y, color, xa, ya, name=None, legend=None, width=2, smoothing=1.0):
    return go.Scatter(x=q, y=y, mode="lines", xaxis=xa, yaxis=ya,
                      name=name, showlegend=legend is not None, legend=legend or "legend",
                      line=dict(color=color, width=width, shape="spline", smoothing=smoothing))


# ---- (a) main ----
fig.add_trace(data_trace(refl_q, a_pp_logR, pp_relerr, PINK, PINK_ERR, "x", "y",
                         "R<sup>++</sup> data", "legend"))
fig.add_trace(data_trace(refl_q, a_mm_logR, mm_relerr, BLUE, BLUE_ERR, "x", "y",
                         "R<sup>--</sup> data", "legend3"))
fig.add_trace(fit_trace(a_fit_pp_q, unlog(a_fit_pp_logR), RED, "x", "y", "R<sup>++</sup> fit", "legend2"))
fig.add_trace(fit_trace(a_fit_mm_q, unlog(a_fit_mm_logR), "black", "x", "y", "R<sup>--</sup> fit", "legend4"))

# ---- (a) inset ----
fig.add_trace(data_trace(ai_q, ai_pp_logR, ai_relerr, PINK, PINK_ERR, "x2", "y2"))
fig.add_trace(data_trace(ai_q, ai_mm_logR, ai_relerr, BLUE, BLUE_ERR, "x2", "y2"))
fig.add_trace(fit_trace(ai_fit_pp_q, unlog(ai_fit_pp_logR), RED, "x2", "y2"))
fig.add_trace(fit_trace(ai_fit_mm_q, unlog(ai_fit_mm_logR), "black", "x2", "y2"))


# ---- layer stripes ----
def stripe_trace(layers, thick, start, xa, ya, base, height):
    centers, x0 = [], start
    for t in thick:
        centers.append(x0 + t / 2)
        x0 += t
    return go.Bar(x=centers, y=[height] * len(centers), base=base, width=thick,
                  marker=dict(color=[LAYER_COLORS[k] for k in layers], line=dict(width=0)),
                  xaxis=xa, yaxis=ya, showlegend=False, hoverinfo="skip")


b_layers = b_period_layers * b_n_periods + ["cap"]
b_thick = b_period_thick * b_n_periods + [b_cap_thick]
d_layers = d_lead_layers + d_period_layers * d_n_full + d_last_layers + ["cap"]
d_thick = d_lead_thick + d_period_thick * d_n_full + d_last_thick + [d_cap_thick]

fig.add_trace(stripe_trace(b_layers, b_thick, b_stack_start, "x3", "y3", 2.38, 0.22))
fig.add_trace(fit_trace(b_pink_depth, b_pink_M, MAGENTA, "x3", "y3", smoothing=0.8))
fig.add_trace(fit_trace(b_black_depth, b_black_M, "black", "x3", "y3", smoothing=0.8))

# ---- (c) main ----
fig.add_trace(data_trace(refl_q, c_pp_logR, pp_relerr, PINK, PINK_ERR, "x4", "y4"))
fig.add_trace(data_trace(refl_q, c_mm_logR, mm_relerr, BLUE, BLUE_ERR, "x4", "y4"))
fig.add_trace(fit_trace(c_fit_pp_q, unlog(c_fit_pp_logR), RED, "x4", "y4"))
fig.add_trace(fit_trace(c_fit_mm_q, unlog(c_fit_mm_logR), "black", "x4", "y4"))

# ---- (c) inset ----
for q, v, e, col, ecol in [(ci_pp_q, ci_pp_v, ci_pp_err, PINK, PINK_ERR),
                           (ci_mm_q, ci_mm_v, ci_mm_err, BLUE, BLUE_ERR)]:
    fig.add_trace(go.Scatter(x=q, y=v, mode="markers", xaxis="x5", yaxis="y5", showlegend=False,
                             marker=dict(symbol="circle-open", size=4, color=col, line=dict(width=1, color=col)),
                             error_y=dict(type="data", array=e, visible=True, color=ecol, thickness=1, width=2)))
fig.add_trace(fit_trace(ci_fit_pp_q, ci_fit_pp_v, RED, "x5", "y5"))
fig.add_trace(fit_trace(ci_fit_mm_q, ci_fit_mm_v, "black", "x5", "y5"))

# ---- (d) ----
fig.add_trace(stripe_trace(d_layers, d_thick, d_stack_start, "x6", "y6", 2.38, 0.22))
fig.add_trace(fit_trace(d_depth, d_M, "black", "x6", "y6", smoothing=0.7))


# ====================== AXES ======================
def ax(**kw):
    base = dict(showline=True, linecolor="black", linewidth=1.2, mirror=True,
                ticks="outside", ticklen=5, tickwidth=1.1, tickcolor="black",
                showgrid=False, zeroline=False, automargin=False,
                tickfont=dict(family=FONT, size=15, color="black"))
    base.update(kw)
    return base


log_ticks = dict(type="log", range=[-7, 0], tickmode="array",
                 tickvals=[1e-1, 1e-3, 1e-5, 1e-7],
                 ticktext=["10<sup>-1</sup>", "10<sup>-3</sup>", "10<sup>-5</sup>", "10<sup>-7</sup>"],
                 minor=dict(tickmode="array", tickvals=[1, 1e-2, 1e-4, 1e-6], ticks="outside",
                            ticklen=3, tickcolor="black"),
                 ticklabelstandoff=-3)
q_minor = dict(dtick=0.025, ticks="outside", ticklen=3, tickcolor="black")
bold10 = dict(family=FONT, size=10, color="black", weight="bold")

fig.update_layout(
    xaxis=ax(domain=[fx(49), fx(458)], range=[0, 0.21], anchor="y", dtick=0.05, tick0=0,
             tickformat=".2f", minor=q_minor, ticklabelstandoff=-5),
    yaxis=ax(domain=[fy(196), fy(6)], anchor="x", **log_ticks),
    xaxis2=ax(domain=[fx(201), fx(458)], range=[0, 0.21], anchor="y2", dtick=0.05, tick0=0,
              tickformat=".2f", tickfont=bold10, ticklen=3, ticklabelstandoff=-1,
              minor=dict(dtick=0.025, ticks="outside", ticklen=2, tickcolor="black")),
    yaxis2=dict(domain=[fy(89.5), fy(6)], anchor="x2", type="log", range=[-7, 0],
                showline=True, linecolor="black", linewidth=1.2, mirror=True, automargin=False,
                showgrid=False, zeroline=False, showticklabels=False,
                tickmode="array", tickvals=[1, 1e-1, 1e-2, 1e-3, 1e-4, 1e-5, 1e-6, 1e-7],
                ticks="inside", ticklen=3, tickcolor="black"),
    xaxis3=ax(domain=[fx(49), fx(458)], range=[0, 321], anchor="y3", dtick=50, tick0=0,
              ticklabelstandoff=-4,
              minor=dict(dtick=25, ticks="outside", ticklen=3, tickcolor="black")),
    yaxis3=ax(domain=[fy(394), fy(241)], range=[0, 2.6], anchor="x3", tickmode="array",
              tickvals=[0, 1, 2], ticklabelstandoff=-2,
              minor=dict(dtick=0.5, ticks="outside", ticklen=3, tickcolor="black")),
    xaxis4=ax(domain=[fx(49), fx(458)], range=[0, 0.2135], anchor="y4", dtick=0.05, tick0=0,
              tickformat=".2f", minor=q_minor, ticklabelstandoff=-5),
    yaxis4=ax(domain=[fy(626), fy(437)], anchor="x4", **log_ticks),
    xaxis5=ax(domain=[fx(200), fx(458)], range=[0, 0.21], anchor="y5", dtick=0.05, tick0=0,
              tickformat=".2f", tickfont=bold10, ticklen=3, ticklabelstandoff=-1,
              minor=dict(dtick=0.025, ticks="outside", ticklen=2, tickcolor="black")),
    yaxis5=ax(domain=[fy(518.3), fy(438)], range=[0, 2.15], anchor="x5", tickmode="array",
              tickvals=[0.5, 1.0, 1.5, 2.0], tickformat=".1f", tickfont=bold10, ticklen=3,
              ticklabelstandoff=-1,
              minor=dict(tickmode="array", tickvals=[0.25, 0.75, 1.25, 1.75], ticks="outside",
                         ticklen=2, tickcolor="black")),
    xaxis6=ax(domain=[fx(49), fx(458)], range=[0, 315], anchor="y6", dtick=50, tick0=0,
              ticklabelstandoff=-4,
              minor=dict(dtick=25, ticks="outside", ticklen=3, tickcolor="black")),
    yaxis6=ax(domain=[fy(822), fy(669)], range=[0, 2.6], anchor="x6", tickmode="array",
              tickvals=[0, 1, 2], ticklabelstandoff=-2,
              minor=dict(dtick=0.5, ticks="outside", ticklen=3, tickcolor="black")),
)

# ====================== TEXT ======================
ann = []


def text(t, x, y, size=16, angle=0, **kw):
    ann.append(dict(text=t, x=fx(x), y=fy(y), xref="paper", yref="paper", showarrow=False,
                    xanchor="center", yanchor="middle", textangle=angle,
                    font=dict(family=FONT, size=size, color="black"), **kw))


text("(a)", 19, 14, 17)
text("(b)", 19, 248, 17)
text("(c)", 21, 441, 17)
text("(d)", 21, 658, 17)
text("x= 0.44 SL", 131, 21)
text("x= 0.44 alloy", 408, 22)
text("x= 0.44 SL", 104, 382)
text("x= 0.47 SL", 414, 452)
text("x= 0.47 SL", 132, 811)
text("Reflectivity", 9, 100, 16, -90)
text("Reflectivity", 9, 531, 16, -90)
text("q (Å<sup>-1</sup>)", 253, 224, 16)
text("q (Å<sup>-1</sup>)", 253, 654, 16)
text("M (μ<sub>B</sub> per Mn)", 13, 318, 16, -90)
text("M (μ<sub>B</sub> per Mn)", 13, 745, 16, -90)
text("depth (Å)", 253, 425, 16)
text("depth (Å)", 253, 853, 16)
text("R q<sup>4</sup> x10<sup>-8</sup> (Å<sup>-4</sup>)", 175, 479, 11, -90)

leg_common = dict(x=fx(46), xanchor="left", yanchor="middle", bgcolor="rgba(0,0,0,0)",
                  borderwidth=0, font=dict(family=FONT, size=15, color="black"), itemwidth=30)
fig.update_layout(
    annotations=ann,
    width=W, height=H, autosize=False,
    margin=dict(l=0, r=0, t=0, b=0, pad=0),
    paper_bgcolor="white", plot_bgcolor="white",
    barmode="overlay",
    showlegend=True,
    legend=dict(y=fy(124), **leg_common),
    legend2=dict(y=fy(146), **leg_common),
    legend3=dict(y=fy(167), **leg_common),
    legend4=dict(y=fy(189), **leg_common),
    font=dict(family=FONT, color="black"),
)

fig.write_html("out.html",
               config={"displayModeBar": False, "staticPlot": False},
               post_script="document.body.style.margin='0px';document.body.style.padding='0px';"
                           "document.body.style.overflow='hidden';")
